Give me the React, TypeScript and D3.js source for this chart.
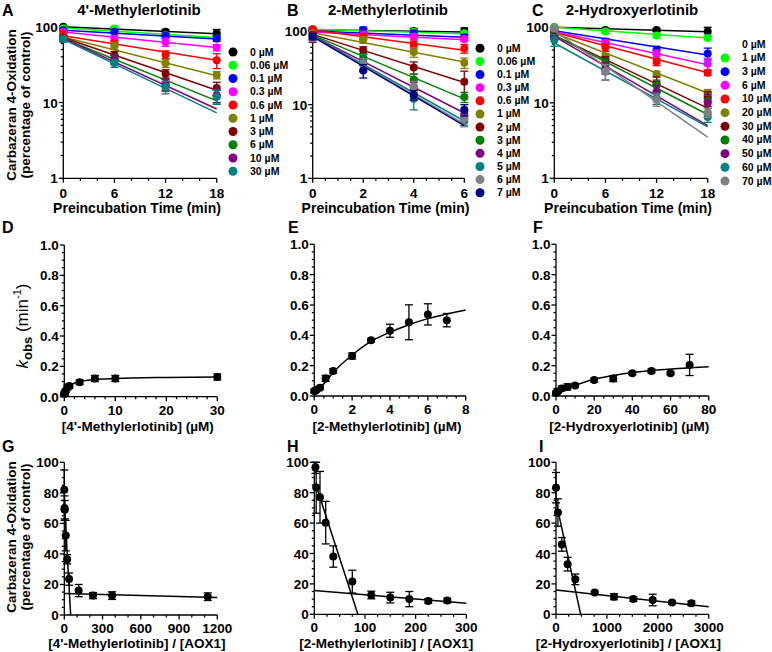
import React, { useEffect, useRef } from 'react'
import * as d3 from 'd3'

const FONT = "'Liberation Sans', Arial, sans-serif"

// ---- panel A: 4'-Methylerlotinib, inactivation time course ----
const timesA = [0, 6, 12, 18]
const concA = ['0 µM', '0.06 µM', '0.1 µM', '0.3 µM', '0.6 µM', '1 µM', '3 µM', '6 µM', '10 µM', '30 µM']
const colorsA = ['#000000', '#00ff00', '#0000ff', '#ff00ff', '#ff0000', '#808000', '#800000', '#008000', '#800080', '#008080']
const meanA = [
  [100, 93, 86, 82], [95, 95, 77, 70], [90, 86, 76, 70], [86, 70, 63, 53], [78, 60, 43, 36],
  [73, 56, 33, 23], [72, 42, 24, 15.5], [70, 38, 17, 12], [70, 37, 17.5, 12.5], [69, 33, 16, 12],
]
const sdA = [
  [3, 5, 6, 10], [4, 5, 6, 6], [4, 5, 6, 6], [5, 6, 8, 5], [10, 6, 5, 8],
  [5, 6, 4, 2.5], [5, 5, 3, 3], [5, 5, 3, 2.5], [5, 5, 3, 2.5], [7, 4, 3, 2.5],
]
const fitA = [
  [100, 81], [96, 72], [90, 69], [85, 53], [76, 36],
  [73, 22.5], [72, 14.5], [70, 10.5], [70, 8.2], [68, 7.3],
]

// ---- panel B: 2-Methylerlotinib ----
const timesB = [0, 2, 4, 6]
const concB = ['0 µM', '0.06 µM', '0.1 µM', '0.3 µM', '0.6 µM', '1 µM', '2 µM', '3 µM', '4 µM', '5 µM', '6 µM', '7 µM']
const colorsB = ['#000000', '#00ff00', '#0000ff', '#ff00ff', '#ff0000', '#808000', '#800000', '#008000', '#800080', '#008080', '#808080', '#000080']
const meanB = [
  [105, 100, 100, 100], [106, 101, 98, 93], [103, 103, 93, 82], [100, 88, 84, 78],
  [106, 84, 65, 58], [93, 76, 52, 37], [88, 55, 32, 20.5], [84, 43, 22, 12.7],
  [80, 35, 17, 7.4], [81, 38, 12, 6], [80, 36, 17.6, 6.5], [84, 29, 13.5, 8.5],
]
const sdB = [
  [5, 8, 8, 10], [4, 5, 5, 5], [5, 10, 8, 8], [5, 12, 8, 6],
  [5, 6, 8, 8], [6, 8, 8, 6], [8, 6, 6, 8], [6, 6, 4, 2],
  [10, 6, 3, 1], [6, 10, 3.5, 0.8], [6, 6, 3, 1.5], [8, 6, 2, 1.5],
]
const fitB = [
  [104, 97], [106, 92], [100, 82], [97, 76], [103, 55], [95, 38],
  [90, 20], [88, 12], [86, 7.7], [85, 6], [84, 5.5], [84, 5.2],
]

// ---- panel C: 2-Hydroxyerlotinib ----
const timesC = [0, 6, 12, 18]
const concC = ['0 µM', '1 µM', '3 µM', '6 µM', '10 µM', '20 µM', '30 µM', '40 µM', '50 µM', '60 µM', '70 µM']
const colorsC = ['#000000', '#00ff00', '#0000ff', '#ff00ff', '#ff0000', '#808000', '#800000', '#008000', '#800080', '#008080', '#808080']
const meanC = [
  [100, 92, 92, 88], [100, 88, 78, 72], [90, 65, 50, 45], [83, 62, 44, 33],
  [88, 54, 35, 25], [81, 41, 24, 13.5], [79, 37, 18, 11.5], [78, 33, 17, 10.5],
  [75, 29, 14, 10], [68, 26, 11.5, 6.5], [97, 26, 11, 7.4],
]
const sdC = [
  [3, 5, 4, 12], [3, 5, 5, 4], [6, 6, 6, 8], [5, 6, 6, 6],
  [5, 6, 4, 2], [5, 4, 2, 1.5], [6, 4, 4, 2.5], [6, 5, 3, 2],
  [6, 5, 3, 3], [12, 6, 2, 1], [5, 6, 2, 1],
]
const fitC = [
  [100, 87], [100, 72], [90, 43], [88, 32], [86, 25], [84, 13.5],
  [78, 8.5], [78, 7], [76, 5], [62, 4.8], [90, 3.5],
]

// ---- panels D-F: kobs vs inhibitor concentration ----
const concD = [0, 0.06, 0.1, 0.3, 0.6, 1, 3, 6, 10, 30]
const kobsD = [0.02, 0.02, 0.03, 0.04, 0.06, 0.07, 0.095, 0.12, 0.12, 0.13]
const errD = [0.01, 0.01, 0.01, 0.01, 0.015, 0.015, 0.015, 0.02, 0.02, 0.02]
const curveD = [[0, 0.02], [0.5, 0.055], [1, 0.072], [2, 0.09], [3, 0.1], [5, 0.11], [10, 0.12], [20, 0.127], [30, 0.13]]

const concE = [0, 0.06, 0.1, 0.3, 0.6, 1, 2, 3, 4, 5, 6, 7]
const kobsE = [0.033, 0.035, 0.04, 0.055, 0.116, 0.165, 0.264, 0.367, 0.43, 0.486, 0.538, 0.5]
const errE = [0.01, 0.01, 0.01, 0.01, 0.02, 0.015, 0.02, 0.012, 0.043, 0.115, 0.07, 0.044]
const curveE = [[0, 0.025], [0.5, 0.08], [1, 0.155], [2, 0.27], [3, 0.36], [4, 0.42], [5, 0.47], [6, 0.51], [7, 0.54], [8, 0.567]]

const concF = [0, 1, 3, 6, 10, 20, 30, 40, 50, 60, 70]
const kobsF = [0.02, 0.03, 0.05, 0.06, 0.07, 0.105, 0.115, 0.15, 0.165, 0.15, 0.205]
const errF = [0.01, 0.01, 0.015, 0.02, 0.01, 0.012, 0.02, 0.01, 0.012, 0.01, 0.07]
const curveF = [[0, 0.02], [10, 0.07], [20, 0.11], [30, 0.135], [40, 0.155], [50, 0.168], [60, 0.178], [70, 0.186], [80, 0.193]]

// ---- panels G-I: titration, remaining activity vs [inhibitor]/[AOX1] ----
const ratioG = [0, 2.25, 3.75, 11.25, 22.5, 37.5, 112.5, 225, 375, 1125]
const remG = [82, 70, 69, 52, 36.5, 23.5, 16, 12.7, 12.7, 12]
const errG = [13, 8, 6, 10, 3, 4, 4, 2, 2.5, 2.5]
const steepG = [[0, 74], [50, 0]]
const flatG = [[0, 14], [1200, 11.5]]

const ratioH = [2.25, 3.75, 11.25, 22.5, 37.5, 75, 112.5, 150, 187.5, 225, 262.5]
const remH = [96.7, 83.5, 77, 60.3, 38, 21.5, 12.7, 11, 10, 8.8, 9]
const errH = [4, 17, 17, 14, 7, 7.5, 2.5, 3.5, 5, 1.5, 1.5]
const steepH = [[2.25, 86], [86, 0]]
const flatH = [[0, 15.6], [300, 7.2]]

const ratioI = [0, 38, 114, 228, 380, 760, 1140, 1520, 1900, 2280, 2660]
const remI = [83.3, 67, 46, 33, 23, 14.3, 11.6, 10, 9.4, 7.7, 7.2]
const errI = [10, 9, 4.5, 4.5, 3.5, 1, 2, 1.5, 3.8, 1, 1.5]
const steepI = [[0, 74], [485, 0]]
const flatI = [[0, 16], [3000, 5]]

const tickStyle = (sel) => sel.attr('stroke', '#000').attr('stroke-width', 1.3)

const drawFrame = (g, x, y, xMajor, xMinor, yMajor, yMinor, xFmt, yFmt, labOff = 19.5) => {
    const x0 = x.range()[0], y0 = y.range()[0]
    g.append('line').attr('x1', x0).attr('x2', x.range()[1]).attr('y1', y0).attr('y2', y0).call(tickStyle)
    g.append('line').attr('x1', x0).attr('x2', x0).attr('y1', y0).attr('y2', y.range()[1]).call(tickStyle)
    xMinor.forEach(v => g.append('line').attr('x1', x(v)).attr('x2', x(v)).attr('y1', y0).attr('y2', y0 + 2.5).call(tickStyle))
    xMajor.forEach(v => {
        g.append('line').attr('x1', x(v)).attr('x2', x(v)).attr('y1', y0).attr('y2', y0 + 4.5).call(tickStyle)
        g.append('text').attr('x', x(v)).attr('y', y0 + labOff).attr('text-anchor', 'middle')
            .attr('font-size', 13.5).attr('font-weight', 'bold').attr('font-family', FONT).text(xFmt(v))
    })
    yMinor.forEach(v => g.append('line').attr('x1', x0).attr('x2', x0 - 2.5).attr('y1', y(v)).attr('y2', y(v)).call(tickStyle))
    yMajor.forEach(v => {
        g.append('line').attr('x1', x0).attr('x2', x0 - 4.5).attr('y1', y(v)).attr('y2', y(v)).call(tickStyle)
        g.append('text').attr('x', x0 - 5.5).attr('y', y(v) + 5).attr('text-anchor', 'end')
            .attr('font-size', 13.5).attr('font-weight', 'bold').attr('font-family', FONT).text(yFmt(v))
    })
}

const errBar = (g, cx, yTop, yBot, color, cap) => {
    g.append('line').attr('x1', cx).attr('x2', cx).attr('y1', yTop).attr('y2', yBot).attr('stroke', color).attr('stroke-width', 1.3)
    g.append('line').attr('x1', cx - cap).attr('x2', cx + cap).attr('y1', yTop).attr('y2', yTop).attr('stroke', color).attr('stroke-width', 1.3)
    g.append('line').attr('x1', cx - cap).attr('x2', cx + cap).attr('y1', yBot).attr('y2', yBot).attr('stroke', color).attr('stroke-width', 1.3)
}

const addText = (svg, x, y, txt, size, anchor = 'start', rotate = false) => {
    const t = svg.append('text').attr('font-family', FONT).attr('font-weight', 'bold')
        .attr('font-size', size).attr('text-anchor', anchor).text(txt)
    if (rotate) t.attr('transform', `translate(${x},${y}) rotate(-90)`)
    else t.attr('x', x).attr('y', y)
    return t
}

const drawDecay = (svg, cfg) => {
    const tMax = cfg.times[cfg.times.length - 1]
    const x = d3.scaleLinear().domain([0, tMax]).range(cfg.xr)
    const y = d3.scaleLog().domain(cfg.yd).range(cfg.yr)
    const g = svg.append('g')
    const minors = []
    ;[1, 10].forEach(d => d3.range(2, 10).forEach(m => minors.push(d * m)))
    const step = cfg.times[1]
    drawFrame(g, x, y, cfg.times, d3.range(0, tMax, step / cfg.xSub).filter(v => !cfg.times.includes(+v.toFixed(3))),
        [1, 10, 100], minors, d3.format('d'), d3.format('d'))

    cfg.means.forEach((row, i) => {
        const c = cfg.colors[i]
        const f = cfg.fits[i]
        g.append('line').attr('x1', x(0)).attr('y1', y(f[0])).attr('x2', x(tMax)).attr('y2', y(f[1]))
            .attr('stroke', c).attr('stroke-width', 1.5)
        row.forEach((m, j) => {
            const s = cfg.sds[i][j]
            errBar(g, x(cfg.times[j]), y(m + s), y(Math.max(m - s, 1.05)), c, 4)
            g.append('circle').attr('cx', x(cfg.times[j])).attr('cy', y(m)).attr('r', 4).attr('fill', c)
        })
    })

    cfg.labels.forEach((lab, i) => {
        const ly = cfg.legY + i * cfg.legStep
        if (!(cfg.hideFirst && i === 0))
            g.append('circle').attr('cx', cfg.legX).attr('cy', ly).attr('r', 4.5).attr('fill', cfg.colors[i])
        addText(g, cfg.legX + 17, ly + 3.5, lab, 10.5)
    })

    addText(svg, (cfg.xr[0] + cfg.xr[1]) / 2 - 3, 213, 'Preincubation Time (min)', 14, 'middle')
    addText(svg, cfg.titleX, 15, cfg.title, 15, 'middle')
    addText(svg, cfg.letterX, 16, cfg.letter, 16)
}

const drawKobs = (svg, cfg) => {
    const x = d3.scaleLinear().domain([0, cfg.xMax]).range(cfg.xr)
    const y = d3.scaleLinear().domain([0, 1]).range(cfg.yr)
    const g = svg.append('g')
    const yMaj = d3.range(0, 1.01, 0.2)
    const yMin = d3.range(0.05, 1, 0.05).filter(v => Math.abs(v * 5 - Math.round(v * 5)) > 0.01)
    const xMin = d3.range(0, cfg.xMax + 1e-9, cfg.xMinorStep).filter(v => Math.abs(v / cfg.xMajorStep - Math.round(v / cfg.xMajorStep)) > 0.01)
    drawFrame(g, x, y, cfg.xMajor, xMin, yMaj, yMin, d3.format('d'), d3.format('.1f'), 18)

    const line = d3.line().x(d => x(d[0])).y(d => y(d[1])).curve(d3.curveMonotoneX)
    g.append('path').attr('d', line(cfg.curve)).attr('fill', 'none').attr('stroke', '#000').attr('stroke-width', 1.5)
    cfg.conc.forEach((c, i) => {
        errBar(g, x(c), y(cfg.kobs[i] + cfg.err[i]), y(Math.max(cfg.kobs[i] - cfg.err[i], 0)), '#000', 4)
        g.append('circle').attr('cx', x(c)).attr('cy', y(cfg.kobs[i])).attr('r', 4).attr('fill', '#000')
    })
    addText(svg, (cfg.xr[0] + cfg.xr[1]) / 2 - 3, 431, cfg.xTitle, 13.5, 'middle')
    addText(svg, cfg.letterX, 233, cfg.letter, 16)
}

const drawTitration = (svg, cfg) => {
    const x = d3.scaleLinear().domain([0, cfg.xMax]).range(cfg.xr)
    const y = d3.scaleLinear().domain([0, 100]).range(cfg.yr)
    const g = svg.append('g')
    const yMin = d3.range(5, 100, 5).filter(v => v % 20 !== 0)
    const xMin = d3.range(0, cfg.xMax + 1e-9, cfg.xMinorStep).filter(v => Math.abs(v / cfg.xMajorStep - Math.round(v / cfg.xMajorStep)) > 0.01)
    drawFrame(g, x, y, cfg.xMajor, xMin, d3.range(0, 101, 20), yMin, d3.format('d'), d3.format('d'), 17.5)

    ;[cfg.steep, cfg.flat].forEach(seg => {
        g.append('line').attr('x1', x(seg[0][0])).attr('y1', y(seg[0][1])).attr('x2', x(seg[1][0])).attr('y2', y(seg[1][1]))
            .attr('stroke', '#000').attr('stroke-width', 1.5)
    })
    cfg.ratio.forEach((r, i) => {
        errBar(g, x(r), y(Math.min(cfg.rem[i] + cfg.err[i], 100)), y(Math.max(cfg.rem[i] - cfg.err[i], 0)), '#000', 4)
        g.append('circle').attr('cx', x(r)).attr('cy', y(cfg.rem[i])).attr('r', 4).attr('fill', '#000')
    })
    addText(svg, (cfg.xr[0] + cfg.xr[1]) / 2 - 4, 648, cfg.xTitle, 13.5, 'middle')
    addText(svg, cfg.letterX, 452, cfg.letter, 16)
}

const App = () => {
    const ref = useRef(null)

    useEffect(() => {
        const svg = d3.select(ref.current)
        svg.selectAll('*').remove()
        svg.append('rect').attr('width', 772).attr('height', 652).attr('fill', '#fff')

        drawDecay(svg, {
            times: timesA, means: meanA, sds: sdA, fits: fitA, colors: colorsA, labels: concA,
            xr: [63.3, 216.7], yr: [178.3, 26.7], yd: [1, 100], xSub: 3,
            legX: 233, legY: 52, legStep: 13.25, title: "4'-Methylerlotinib", titleX: 139, letter: 'A', letterX: 2,
        })
        drawDecay(svg, {
            times: timesB, means: meanB, sds: sdB, fits: fitB, colors: colorsB, labels: concB,
            xr: [312.7, 464.3], yr: [178.3, 26], yd: [1, 117], xSub: 4,
            legX: 480, legY: 48.3, legStep: 13.13, title: '2-Methylerlotinib', titleX: 388, letter: 'B', letterX: 287,
        })
        drawDecay(svg, {
            times: timesC, means: meanC, sds: sdC, fits: fitC, colors: colorsC, labels: concC,
            xr: [554.3, 707.7], yr: [178.3, 27.3], yd: [1, 100], xSub: 3, hideFirst: true,
            legX: 725, legY: 44.3, legStep: 13.67, title: '2-Hydroxyerlotinib', titleX: 632, letter: 'C', letterX: 532,
        })

        // y titles, row 1 and row 3
        ;[105, 537].forEach(cy => {
            addText(svg, 16, cy, 'Carbazeran 4-Oxidation', 13.5, 'middle', true)
            addText(svg, 29.5, cy, '(percentage of control)', 13.5, 'middle', true)
        })

        drawKobs(svg, {
            conc: concD, kobs: kobsD, err: errD, curve: curveD, xMax: 30, xMajor: [0, 10, 20, 30], xMajorStep: 10, xMinorStep: 2,
            xr: [64.3, 217.3], yr: [396.7, 245], xTitle: "[4'-Methylerlotinib] (µM)", letter: 'D', letterX: 2,
        })
        drawKobs(svg, {
            conc: concE, kobs: kobsE, err: errE, curve: curveE, xMax: 8, xMajor: [0, 2, 4, 6, 8], xMajorStep: 2, xMinorStep: 0.5,
            xr: [314.3, 465.7], yr: [396, 244.3], xTitle: '[2-Methylerlotinib] (µM)', letter: 'E', letterX: 288,
        })
        drawKobs(svg, {
            conc: concF, kobs: kobsF, err: errF, curve: curveF, xMax: 80, xMajor: [0, 20, 40, 60, 80], xMajorStep: 20, xMinorStep: 5,
            xr: [556, 708.7], yr: [396, 244.3], xTitle: '[2-Hydroxyerlotinib] (µM)', letter: 'F', letterX: 533,
        })

        // kobs (min-1) y title
        const kt = svg.append('text').attr('transform', 'translate(28,326) rotate(-90)').attr('text-anchor', 'middle')
            .attr('font-family', FONT).attr('font-size', 17)
        kt.append('tspan').attr('font-style', 'italic').text('k')
        kt.append('tspan').attr('font-size', 13).attr('font-weight', 'bold').attr('dy', 4).text('obs')
        kt.append('tspan').attr('dy', -4).text(' (min')
        kt.append('tspan').attr('font-size', 11).attr('dy', -7).text('-1')
        kt.append('tspan').attr('dy', 7).text(')')

        drawTitration(svg, {
            ratio: ratioG, rem: remG, err: errG, steep: steepG, flat: flatG, xMax: 1200, xMajor: [0, 300, 600, 900, 1200],
            xMajorStep: 300, xMinorStep: 100, xr: [64.3, 217.3], yr: [615, 462.3],
            xTitle: "[4'-Methylerlotinib] / [AOX1]", letter: 'G', letterX: 2,
        })
        drawTitration(svg, {
            ratio: ratioH, rem: remH, err: errH, steep: steepH, flat: flatH, xMax: 300, xMajor: [0, 100, 200, 300],
            xMajorStep: 100, xMinorStep: 25, xr: [314.3, 466.3], yr: [614.3, 462.3],
            xTitle: '[2-Methylerlotinib] / [AOX1]', letter: 'H', letterX: 287,
        })
        drawTitration(svg, {
            ratio: ratioI, rem: remI, err: errI, steep: steepI, flat: flatI, xMax: 3000, xMajor: [0, 1000, 2000, 3000],
            xMajorStep: 1000, xMinorStep: 250, xr: [556, 708.7], yr: [614.3, 462.3],
            xTitle: '[2-Hydroxyerlotinib] / [AOX1]', letter: 'I', letterX: 539,
        })
    }, [])

    return (
        <svg ref={ref} width={772} height={652} style={{ position: 'absolute', left: 0, top: 0 }} />
    )
}

export default App
